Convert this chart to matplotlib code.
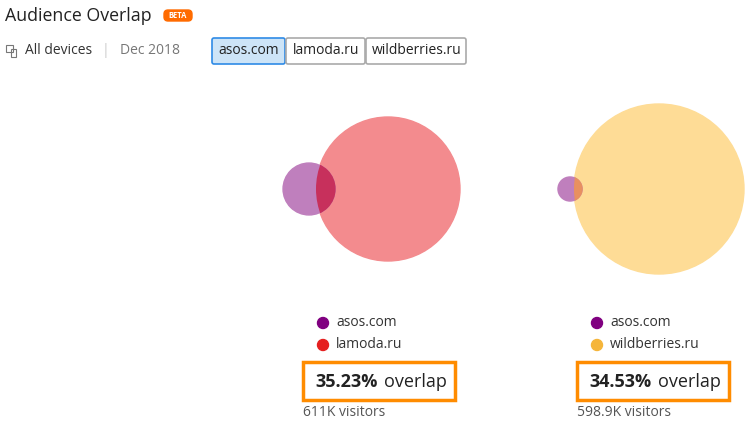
import matplotlib
matplotlib.use("Agg")
import matplotlib.pyplot as plt
from matplotlib.patches import Circle, FancyBboxPatch, Rectangle
import numpy as np

plt.rcParams['font.family'] = ['Open Sans', 'DejaVu Sans']

# data
pairs = [("asos.com", "lamoda.ru"), ("asos.com", "wildberries.ru")]
small_area = [0.13, 0.02]        # relative audience (area) of asos vs. competitor
overlap_pct = ["35.23%", "34.53%"]
visitors = ["611K visitors", "598.9K visitors"]
tabs = ["asos.com", "lamoda.ru", "wildberries.ru"]

fig = plt.figure(figsize=(7.5, 4.33), dpi=100)
ax = fig.add_axes([0, 0, 1, 1])
ax.set_xlim(0, 750); ax.set_ylim(433, 0); ax.axis('off')

ax.text(5, 16, "Audience Overlap", fontsize=12.8, color='#222', va='center')
ax.add_patch(FancyBboxPatch((164, 10), 28, 11, boxstyle="round,pad=0,rounding_size=4", color='#ff6b00'))
ax.text(178, 16, "BETA", fontsize=5.5, color='white', ha='center', va='center', weight='bold')
ax.add_patch(Rectangle((6, 45), 7, 7, fill=False, ec='#777', lw=0.8))
ax.add_patch(Rectangle((11, 49), 5, 8, fill=False, ec='#777', lw=0.8))
ax.text(25, 51, "All devices", fontsize=10, color='#333', va='center')
ax.text(102, 51, "|", fontsize=10, color='#ccc', va='center')
ax.text(120, 51, "Dec 2018", fontsize=10, color='#777', va='center')
tx = [212, 286, 366, 467]
for i, t in enumerate(tabs):
    sel = i == 0
    ax.add_patch(FancyBboxPatch((tx[i], 38), tx[i+1]-tx[i]-1, 26,
                 boxstyle="round,pad=0,rounding_size=2",
                 fc='#cde4f7' if sel else 'white', ec='#2f8be6' if sel else '#aaa', lw=1.2))
    ax.text((tx[i]+tx[i+1])/2, 51, t, fontsize=10, color='#222', ha='center', va='center')

big_col = ['#f38b8e', '#fedc96']
ov_col = ['#c7305c', '#e89060']
centers = [(388, 72, 309), (659, 85, 570)]
cols = ['#800080', '#e52020']
cols2 = ['#800080', '#f5b53a']
xs = [318, 592]
for k in range(2):
    bx, R, sx = centers[k]
    r = R*np.sqrt(small_area[k])
    big = Circle((bx, 189), R, color=big_col[k], zorder=1)
    ax.add_patch(big)
    ax.add_patch(Circle((sx, 189), r, color='#bf7fbd', zorder=2))
    ov = Circle((sx, 189), r, color=ov_col[k], zorder=3)
    ax.add_patch(ov)
    clip = Circle((bx, 189), R, transform=ax.transData)
    ov.set_clip_path(clip)
    ccol = [cols[0], cols[1] if k == 0 else cols2[1]]
    for j, name in enumerate(pairs[k]):
        y = 323 + j*22
        ax.add_patch(Circle((xs[k]+5, y), 5.5, color=ccol[j]))
        ax.text(xs[k]+18, y, name, fontsize=10, color='#333', va='center')
    x0 = xs[k]-15
    ax.add_patch(Rectangle((x0, 362), 152, 38, fill=False, ec='#ff8c00', lw=2.5))
    ax.text(x0+12, 382, overlap_pct[k], fontsize=13, weight='bold', color='#222', va='center')
    ax.text(x0+81, 382, "overlap", fontsize=13, color='#222', va='center')
    ax.text(x0, 413, visitors[k], fontsize=10, color='#555', va='center')

fig.savefig("out.png", dpi=100)
